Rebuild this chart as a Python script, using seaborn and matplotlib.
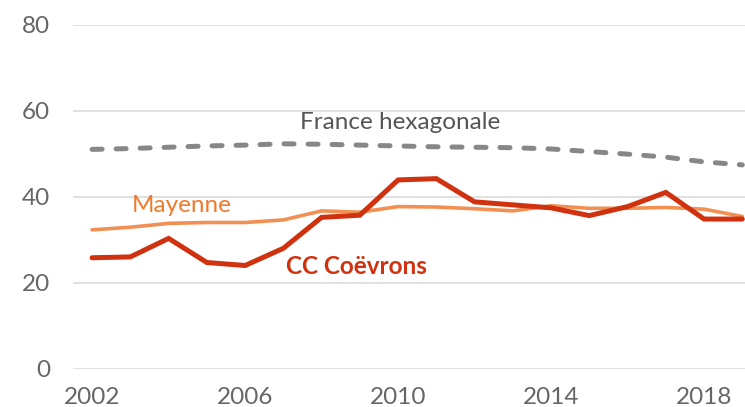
import matplotlib
matplotlib.use("Agg")
import matplotlib.pyplot as plt
import seaborn as sns
import pandas as pd

years = list(range(2002, 2020))
coevrons = [25.8, 26.0, 30.3, 24.7, 24.0, 28.0, 35.2, 35.7, 43.9, 44.2, 38.8, 38.1, 37.4, 35.6, 37.7, 41.0, 34.8, 34.8]
mayenne = [32.3, 32.9, 33.8, 34.0, 34.0, 34.6, 36.7, 36.4, 37.7, 37.6, 37.2, 36.7, 37.9, 37.3, 37.3, 37.5, 37.1, 35.4]
france = [51.0, 51.2, 51.5, 51.8, 52.0, 52.3, 52.2, 52.0, 51.8, 51.6, 51.5, 51.4, 51.1, 50.5, 49.9, 49.2, 48.1, 47.4]
series_names = ["France hexagonale", "Mayenne", "CC Coëvrons"]
y_ticks = [0, 20, 40, 60, 80]
x_ticks = [2002, 2006, 2010, 2014, 2018]

sns.set_style("white")
plt.rcParams['font.family'] = ['Lato', 'DejaVu Sans']

df = pd.DataFrame({
    "year": years * 3,
    "value": france + mayenne + coevrons,
    "series": [series_names[0]] * len(years) + [series_names[1]] * len(years) + [series_names[2]] * len(years),
})

fig = plt.figure(figsize=(7.45, 4.07), dpi=100)
ax = fig.add_axes([73/745, (407-368.7)/407, 1 - 73/745, (368.7-24.7)/407])

colors = {"France hexagonale": "#878787", "Mayenne": "#f28f52", "CC Coëvrons": "#d0310f"}
widths = {"France hexagonale": 3.6, "Mayenne": 2.6, "CC Coëvrons": 3.6}

for name in series_names:
    sub = df[df.series == name]
    kw = {}
    if name == "France hexagonale":
        kw = dict(dashes=(2.0, 2.8), dash_capstyle="round")
    sns.lineplot(data=sub, x="year", y="value", ax=ax, color=colors[name],
                 linewidth=widths[name], legend=False, clip_on=False,
                 solid_joinstyle="miter", **kw)

ax.set_xlim(2001.5, 2019.07)
ax.set_ylim(0, 80)
ax.set_yticks(y_ticks)
ax.set_xticks(x_ticks)
ax.set_xlabel("")
ax.set_ylabel("")
ax.grid(axis="y", color="#d9d9d9", linewidth=1.1)
ax.grid(axis="x", visible=False)
ax.set_axisbelow(True)
for s in ax.spines.values():
    s.set_visible(False)
fs = 17.5
ax.tick_params(axis="y", length=0, pad=16.5, labelsize=fs, labelcolor="#666666")
ax.tick_params(axis="x", length=0, pad=13.0, labelsize=fs, labelcolor="#666666")

ax.text(2010.05, 55.7, "France hexagonale", ha="center", va="baseline", fontsize=fs, color="#555555")
ax.text(2003.03, 36.4, "Mayenne", ha="left", va="baseline", fontsize=fs, color="#f07a2c")
ax.text(2007.06, 22.0, "CC Coëvrons", ha="left", va="baseline", fontsize=fs, color="#d0310f", fontweight="bold")

fig.savefig("out.png", dpi=100)
